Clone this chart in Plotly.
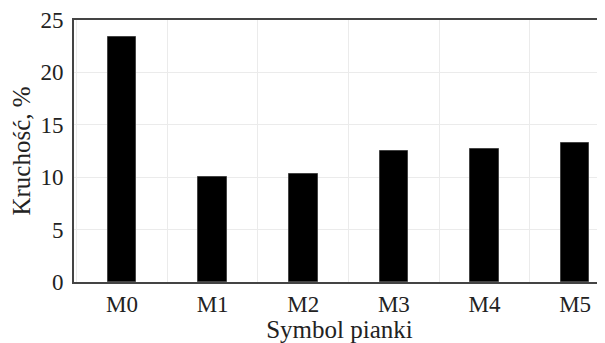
import plotly.graph_objects as go

categories = ["M0", "M1", "M2", "M3", "M4", "M5"]
values = [23.4, 10.05, 10.27, 12.5, 12.65, 13.3]
y_ticks = [0, 5, 10, 15, 20, 25]

positions = list(range(len(categories)))

fig = go.Figure(go.Bar(
    x=positions, y=values, width=0.315,
    marker=dict(color="black", line=dict(color="#444", width=1)),
))

font = "Liberation Serif"
# the page body has an 8px default margin, so the figure is sized to fit the window
fig.update_layout(
    width=597, height=335,
    margin=dict(l=66, r=0, t=12, b=61),
    plot_bgcolor="white", paper_bgcolor="white",
    font=dict(family=font, size=23, color="#222"),
    showlegend=False,
    bargap=0,
)
fig.update_xaxes(
    range=[-0.53, 5.33],
    tickvals=positions, ticktext=categories,
    tickfont=dict(family=font, size=23, color="#222"),
    showgrid=False,
    minor=dict(tick0=0.5, dtick=1, showgrid=True, gridcolor="#ebebeb", gridwidth=1),
    showline=True, linecolor="#444", linewidth=2, mirror=True,
    ticks="",
    title=dict(text="Symbol pianki", standoff=1, font=dict(family=font, size=25, color="#222")),
    zeroline=False,
)
fig.update_yaxes(
    range=[0, 25],
    tickvals=y_ticks,
    tickfont=dict(family=font, size=23, color="#222"),
    ticklabeloverflow="allow",
    showgrid=True, gridcolor="#ebebeb", gridwidth=1,
    showline=True, linecolor="#444", linewidth=2,
    ticks="",
    ticklabelstandoff=4,
    title=dict(text="Kruchość, %", standoff=8, font=dict(family=font, size=25, color="#222")),
    zeroline=False,
)
fig.write_html("out.html")
